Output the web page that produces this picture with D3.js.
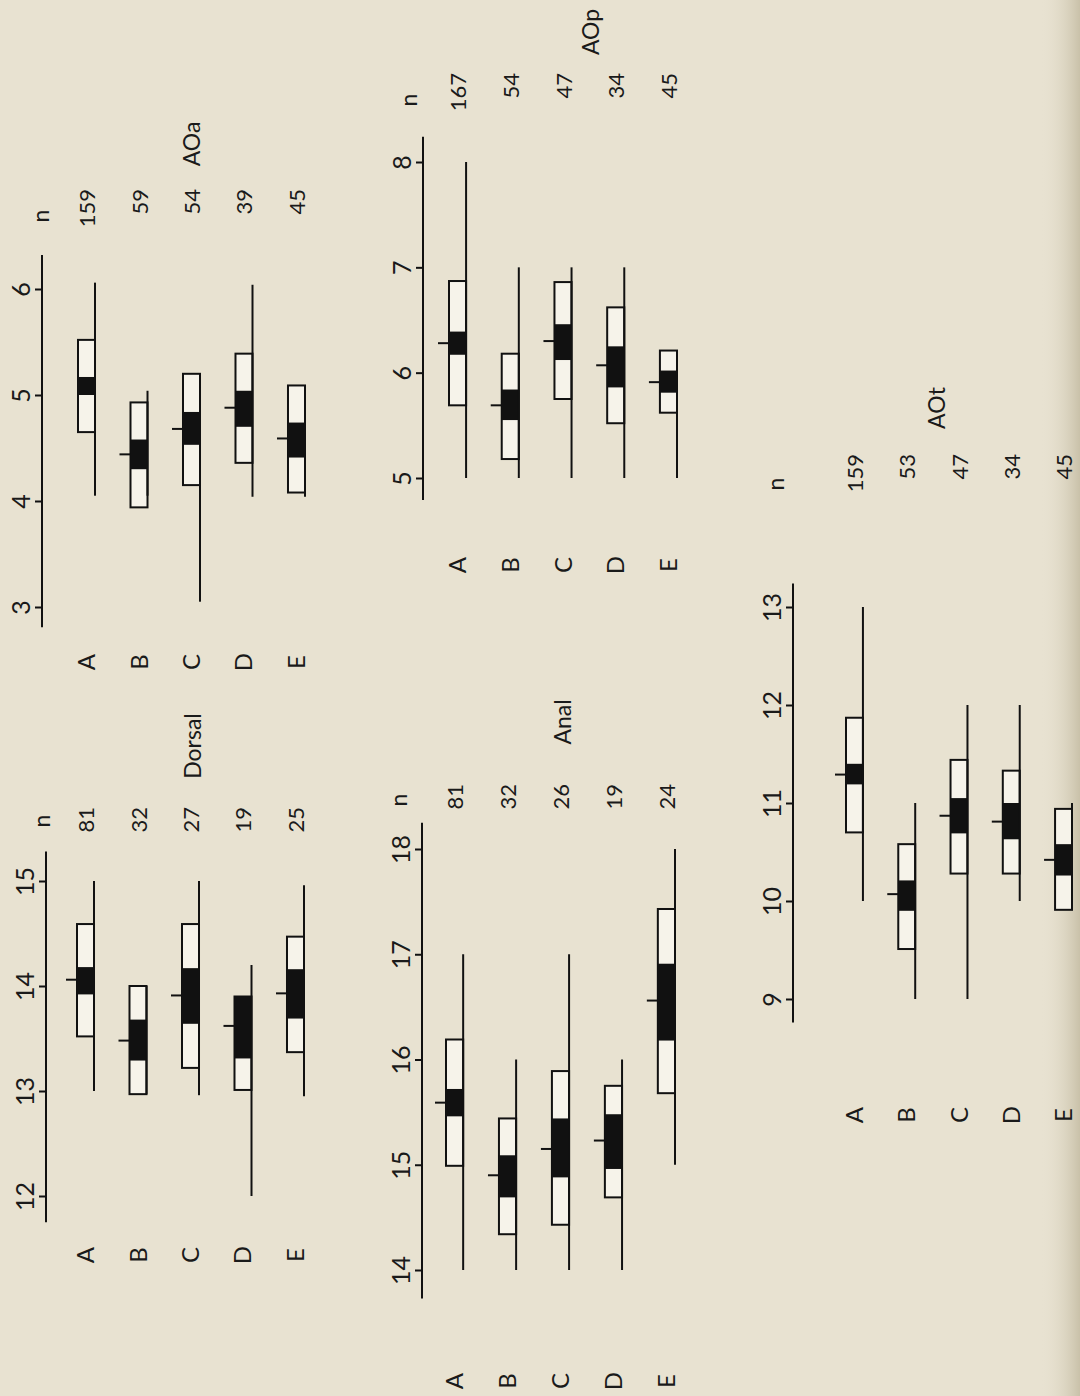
<!DOCTYPE html>
<html>
<head>
<meta charset="utf-8">
<script src="https://cdn.jsdelivr.net/npm/d3@7"></script>
<style>
  html, body { margin: 0; padding: 0; background: #e8e2d1; }
  svg { display: block; }
  text { font-family: "Lato", "Open Sans", "DejaVu Sans", sans-serif; font-weight: 400; fill: #1a1a1a; }
</style>
</head>
<body>
<svg id="chart" width="1080" height="1396"></svg>
<script>
// ---------------- DATA ----------------
const categories = ["A", "B", "C", "D", "E"];

// Dorsal
const dorsalTicks = [12, 13, 14, 15];
const dorsalN    = [81, 32, 27, 19, 25];
const dorsalMin  = [13.0, 12.97, 12.96, 12.0, 12.95];
const dorsalMax  = [15.0, 14.0, 15.0, 14.2, 14.96];
const dorsalSdLo = [13.52, 12.97, 13.22, 13.01, 13.37];
const dorsalSdHi = [14.59, 14.0, 14.59, 13.90, 14.47];
const dorsalCiLo = [13.92, 13.29, 13.64, 13.31, 13.69];
const dorsalCiHi = [14.18, 13.68, 14.17, 13.90, 14.16];
const dorsalMean = [14.06, 13.48, 13.91, 13.62, 13.93];

// AOa
const aoaTicks = [3, 4, 5, 6];
const aoaN    = [159, 59, 54, 39, 45];
const aoaMin  = [4.05, 4.05, 3.05, 4.04, 4.04];
const aoaMax  = [6.06, 5.04, 5.07, 6.04, 5.04];
const aoaSdLo = [4.65, 3.94, 4.15, 4.36, 4.08];
const aoaSdHi = [5.52, 4.93, 5.20, 5.39, 5.09];
const aoaCiLo = [5.00, 4.30, 4.53, 4.70, 4.41];
const aoaCiHi = [5.17, 4.58, 4.84, 5.04, 4.74];
const aoaMean = [null, 4.44, 4.68, 4.88, 4.59];

// Anal
const analTicks = [14, 15, 16, 17, 18];
const analN    = [81, 32, 26, 19, 24];
const analMin  = [14.0, 14.0, 14.0, 14.0, 15.0];
const analMax  = [17.0, 16.0, 17.0, 16.0, 18.0];
const analSdLo = [14.99, 14.34, 14.43, 14.69, 15.68];
const analSdHi = [16.19, 15.44, 15.89, 15.75, 17.43];
const analCiLo = [15.46, 14.69, 14.88, 14.96, 16.18];
const analCiHi = [15.72, 15.09, 15.44, 15.48, 16.91];
const analMean = [15.59, 14.90, 15.15, 15.23, 16.56];

// AOp
const aopTicks = [5, 6, 7, 8];
const aopN    = [167, 54, 47, 34, 45];
const aopMin  = [5.0, 5.0, 5.0, 5.0, 5.0];
const aopMax  = [8.0, 7.0, 7.0, 7.0, 6.02];
const aopSdLo = [5.69, 5.18, 5.75, 5.52, 5.62];
const aopSdHi = [6.87, 6.18, 6.86, 6.62, 6.21];
const aopCiLo = [6.17, 5.55, 6.12, 5.86, 5.81];
const aopCiHi = [6.39, 5.84, 6.46, 6.25, 6.02];
const aopMean = [6.28, 5.69, 6.30, 6.07, 5.91];

// AOt
const aotTicks = [9, 10, 11, 12, 13];
const aotN    = [159, 53, 47, 34, 45];
const aotMin  = [10.0, 9.0, 9.0, 10.0, 10.0];
const aotMax  = [13.0, 11.0, 12.0, 12.0, 11.0];
const aotSdLo = [10.70, 9.51, 10.28, 10.28, 9.91];
const aotSdHi = [11.87, 10.58, 11.44, 11.33, 10.94];
const aotCiLo = [11.19, 9.90, 10.69, 10.63, 10.26];
const aotCiHi = [11.40, 10.21, 11.05, 11.00, 10.58];
const aotMean = [11.29, 10.07, 10.87, 10.81, 10.42];

// ---------------- LAYOUT ----------------
const svg = d3.select("#chart");

// background + darker scan edge on the right
const defs = svg.append("defs");
const grad = defs.append("linearGradient").attr("id", "edge").attr("x1", "0").attr("x2", "1").attr("y1", "0").attr("y2", "0");
grad.append("stop").attr("offset", "0").attr("stop-color", "#e8e2d1").attr("stop-opacity", 0);
grad.append("stop").attr("offset", "1").attr("stop-color", "#c9c1a9").attr("stop-opacity", 1);
svg.append("rect").attr("width", 1080).attr("height", 1396).attr("fill", "#e8e2d1");
svg.append("rect").attr("x", 1040).attr("width", 40).attr("height", 1396).attr("fill", "url(#edge)");

const panels = [
  { title: "Dorsal", ticks: dorsalTicks, n: dorsalN, min: dorsalMin, max: dorsalMax, sdLo: dorsalSdLo, sdHi: dorsalSdHi, ciLo: dorsalCiLo, ciHi: dorsalCiHi, mean: dorsalMean,
    axisX: 46, dom: [12, 15], rng: [1196, 881], line: [11.75, 15.28], band: [77, 304],
    nTop: 807, nPos: [41, 821], titlePos: [192, 746], catY: 1255 },
  { title: "AOa", ticks: aoaTicks, n: aoaN, min: aoaMin, max: aoaMax, sdLo: aoaSdLo, sdHi: aoaSdHi, ciLo: aoaCiLo, ciHi: aoaCiHi, mean: aoaMean,
    axisX: 42, dom: [3, 6], rng: [607, 289], line: [2.81, 6.32], band: [78, 305],
    nTop: 189, nPos: [40, 216], titlePos: [191, 144], catY: 662 },
  { title: "Anal", ticks: analTicks, n: analN, min: analMin, max: analMax, sdLo: analSdLo, sdHi: analSdHi, ciLo: analCiLo, ciHi: analCiHi, mean: analMean,
    axisX: 422, dom: [14, 18], rng: [1270, 849], line: [13.73, 18.25], band: [446, 675],
    nTop: 784, nPos: [398, 800], titlePos: [562, 722], catY: 1381 },
  { title: "AOp", ticks: aopTicks, n: aopN, min: aopMin, max: aopMax, sdLo: aopSdLo, sdHi: aopSdHi, ciLo: aopCiLo, ciHi: aopCiHi, mean: aopMean,
    axisX: 423, dom: [5, 8], rng: [478, 162], line: [4.79, 8.24], band: [449, 677],
    nTop: 73, nPos: [408, 100], titlePos: [590, 32], catY: 565 },
  { title: "AOt", ticks: aotTicks, n: aotN, min: aotMin, max: aotMax, sdLo: aotSdLo, sdHi: aotSdHi, ciLo: aotCiLo, ciHi: aotCiHi, mean: aotMean,
    axisX: 793, dom: [9, 13], rng: [999, 607], line: [8.76, 13.24], band: [846, 1072],
    nTop: 454, nPos: [775, 484], titlePos: [936, 408], catY: 1115 }
];

const ink = "#111";

function rotText(g, x, y, txt, size, anchor) {
  g.append("text")
    .attr("transform", `translate(${x},${y}) rotate(-90)`)
    .attr("text-anchor", anchor || "middle")
    .attr("dominant-baseline", "central")
    .style("font-size", size + "px")
    .text(txt);
}

panels.forEach(p => {
  const g = svg.append("g");
  const y = d3.scaleLinear().domain(p.dom).range(p.rng);
  const x = d3.scaleBand().domain(categories).range(p.band).paddingInner(0.676).paddingOuter(0);
  const bw = x.bandwidth();

  // axis line
  g.append("line")
    .attr("x1", p.axisX).attr("x2", p.axisX)
    .attr("y1", y(p.line[0])).attr("y2", y(p.line[1]))
    .attr("stroke", ink).attr("stroke-width", 2);

  // ticks via d3 axis
  const ax = g.append("g")
    .attr("transform", `translate(${p.axisX},0)`)
    .call(d3.axisLeft(y).tickValues(p.ticks).tickSize(7).tickFormat(d3.format("d")));
  ax.attr("font-family", null).attr("font-size", null);
  ax.select(".domain").remove();
  ax.selectAll(".tick line").attr("stroke", ink).attr("stroke-width", 2);
  ax.selectAll(".tick text")
    .attr("x", null).attr("dy", null)
    .attr("text-anchor", "middle")
    .attr("dominant-baseline", "central")
    .attr("transform", "translate(-22,0) rotate(-90)")
    .style("font-size", "25px")
    .attr("fill", "#1a1a1a");

  // boxes
  categories.forEach((c, i) => {
    const x0 = x(c), x1 = x0 + bw;
    // SD box
    g.append("rect")
      .attr("x", x0).attr("y", y(p.sdHi[i]))
      .attr("width", bw).attr("height", y(p.sdLo[i]) - y(p.sdHi[i]))
      .attr("fill", "#f6f3ea").attr("stroke", ink).attr("stroke-width", 2);
    // CI black
    g.append("rect")
      .attr("x", x0).attr("y", y(p.ciHi[i]))
      .attr("width", bw).attr("height", y(p.ciLo[i]) - y(p.ciHi[i]))
      .attr("fill", ink);
    // range line at right edge
    g.append("line")
      .attr("x1", x1).attr("x2", x1)
      .attr("y1", y(p.min[i])).attr("y2", y(p.max[i]))
      .attr("stroke", ink).attr("stroke-width", 2);
    // mean tick
    if (p.mean[i] != null) {
      g.append("line")
        .attr("x1", x0 - 11).attr("x2", x0)
        .attr("y1", y(p.mean[i])).attr("y2", y(p.mean[i]))
        .attr("stroke", ink).attr("stroke-width", 2);
    }
    // n labels
    rotText(g, x0 + bw / 2, p.nTop, p.n[i], 22, "end");
    // category labels
    rotText(g, x0 + bw / 2 - 1, p.catY, c, 24, "middle");
  });

  rotText(g, p.nPos[0], p.nPos[1], "n", 23, "middle");
  rotText(g, p.titlePos[0], p.titlePos[1], p.title, 23, "middle");
});
</script>
</body>
</html>
